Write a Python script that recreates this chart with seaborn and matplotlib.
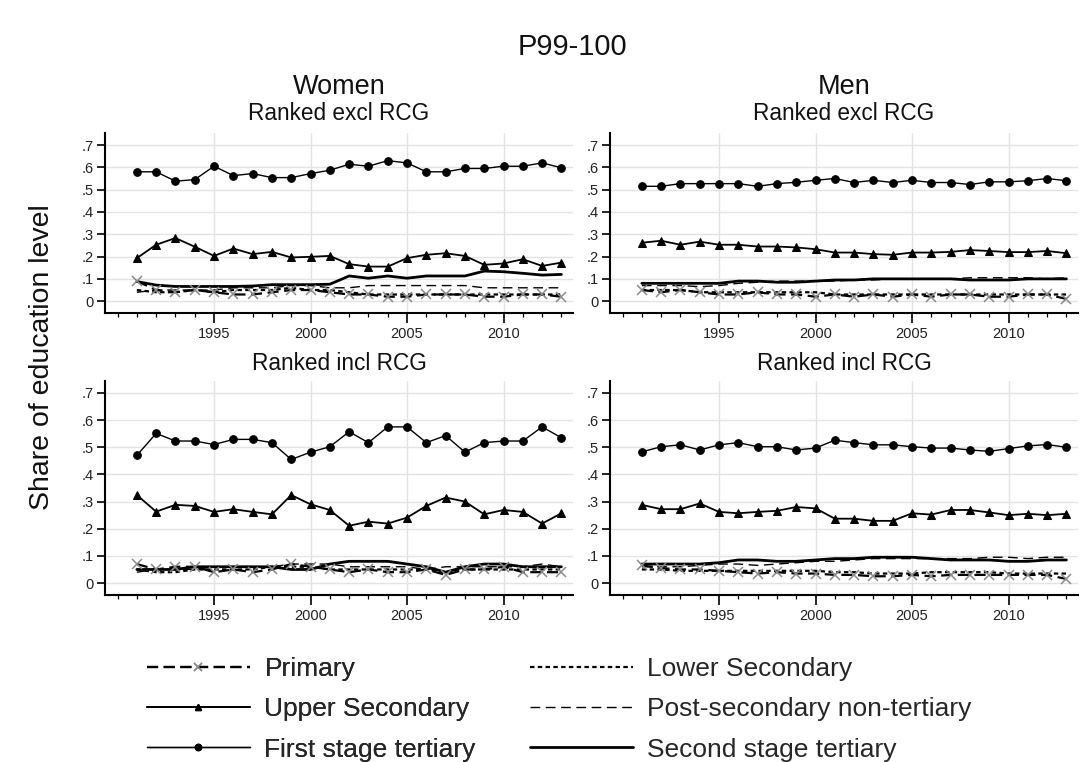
import numpy as np
import pandas as pd
import matplotlib
matplotlib.use("Agg")
import matplotlib.pyplot as plt
from matplotlib.lines import Line2D
from matplotlib.ticker import FixedLocator, FixedFormatter
import seaborn as sns

# ---------------------------------------------------------------- data
years = list(range(1991, 2014))
levels = ["Primary", "Upper Secondary", "First stage tertiary",
          "Lower Secondary", "Post-secondary non-tertiary", "Second stage tertiary"]

# Women, ranked excluding RCG
w_excl_primary = [0.090, 0.050, 0.040, 0.050, 0.040, 0.030, 0.030, 0.040, 0.050, 0.050, 0.040, 0.030,
                  0.030, 0.020, 0.020, 0.030, 0.030, 0.030, 0.020, 0.020, 0.030, 0.030, 0.020]
w_excl_lower = [0.050, 0.040, 0.040, 0.050, 0.040, 0.050, 0.050, 0.050, 0.060, 0.050, 0.050, 0.040,
                0.030, 0.030, 0.030, 0.030, 0.030, 0.030, 0.030, 0.030, 0.030, 0.030, 0.030]
w_excl_upper = [0.193, 0.253, 0.283, 0.244, 0.203, 0.236, 0.211, 0.221, 0.196, 0.199, 0.203, 0.166,
                0.155, 0.155, 0.193, 0.208, 0.215, 0.203, 0.163, 0.169, 0.188, 0.158, 0.173]
w_excl_post = [0.040, 0.050, 0.050, 0.050, 0.050, 0.060, 0.060, 0.060, 0.070, 0.070, 0.060, 0.060,
               0.070, 0.070, 0.070, 0.070, 0.070, 0.070, 0.060, 0.060, 0.060, 0.060, 0.060]
w_excl_first = [0.580, 0.580, 0.538, 0.545, 0.605, 0.563, 0.572, 0.554, 0.554, 0.572, 0.587, 0.614,
                0.605, 0.630, 0.620, 0.580, 0.580, 0.595, 0.595, 0.605, 0.605, 0.620, 0.598]
w_excl_second = [0.088, 0.072, 0.066, 0.066, 0.066, 0.066, 0.068, 0.074, 0.074, 0.074, 0.076, 0.113,
                 0.103, 0.113, 0.103, 0.113, 0.113, 0.113, 0.135, 0.132, 0.125, 0.117, 0.120]

# Men, ranked excluding RCG
m_excl_primary = [0.050, 0.040, 0.050, 0.040, 0.030, 0.030, 0.040, 0.030, 0.030, 0.020, 0.030, 0.020,
                  0.030, 0.020, 0.030, 0.020, 0.030, 0.030, 0.020, 0.020, 0.030, 0.030, 0.010]
m_excl_lower = [0.050, 0.050, 0.050, 0.040, 0.040, 0.040, 0.040, 0.040, 0.040, 0.040, 0.030, 0.030,
                0.030, 0.030, 0.030, 0.030, 0.030, 0.030, 0.030, 0.030, 0.030, 0.030, 0.030]
m_excl_upper = [0.262, 0.271, 0.253, 0.267, 0.253, 0.253, 0.245, 0.245, 0.241, 0.233, 0.218, 0.218,
                0.211, 0.208, 0.218, 0.218, 0.221, 0.229, 0.225, 0.220, 0.220, 0.225, 0.215]
m_excl_post = [0.070, 0.070, 0.070, 0.065, 0.070, 0.080, 0.085, 0.090, 0.090, 0.090, 0.090, 0.095,
               0.095, 0.100, 0.100, 0.100, 0.100, 0.105, 0.105, 0.105, 0.105, 0.100, 0.105]
m_excl_first = [0.515, 0.515, 0.527, 0.527, 0.527, 0.527, 0.515, 0.527, 0.533, 0.542, 0.550, 0.532,
                0.542, 0.532, 0.542, 0.532, 0.532, 0.523, 0.535, 0.535, 0.540, 0.550, 0.540]
m_excl_second = [0.080, 0.080, 0.080, 0.080, 0.080, 0.090, 0.090, 0.085, 0.085, 0.090, 0.095, 0.095,
                 0.100, 0.100, 0.100, 0.100, 0.100, 0.095, 0.095, 0.095, 0.100, 0.100, 0.100]

# Women, ranked including RCG
w_incl_primary = [0.070, 0.050, 0.060, 0.060, 0.040, 0.050, 0.040, 0.050, 0.070, 0.060, 0.050, 0.040,
                  0.050, 0.040, 0.040, 0.050, 0.030, 0.050, 0.050, 0.060, 0.040, 0.040, 0.040]
w_incl_lower = [0.050, 0.040, 0.040, 0.050, 0.050, 0.050, 0.050, 0.060, 0.060, 0.060, 0.050, 0.050,
                0.050, 0.050, 0.050, 0.050, 0.040, 0.050, 0.050, 0.050, 0.050, 0.050, 0.050]
w_incl_upper = [0.324, 0.263, 0.288, 0.284, 0.262, 0.272, 0.262, 0.253, 0.324, 0.290, 0.269, 0.211,
                0.226, 0.219, 0.241, 0.284, 0.315, 0.300, 0.253, 0.269, 0.262, 0.219, 0.257]
w_incl_post = [0.040, 0.050, 0.050, 0.050, 0.060, 0.060, 0.060, 0.060, 0.070, 0.070, 0.070, 0.060,
               0.060, 0.060, 0.060, 0.050, 0.060, 0.060, 0.060, 0.060, 0.060, 0.070, 0.060]
w_incl_first = [0.470, 0.551, 0.523, 0.523, 0.510, 0.529, 0.529, 0.517, 0.455, 0.482, 0.502, 0.557,
                0.517, 0.575, 0.575, 0.517, 0.543, 0.482, 0.517, 0.523, 0.523, 0.575, 0.535]
w_incl_second = [0.050, 0.050, 0.050, 0.060, 0.060, 0.060, 0.060, 0.060, 0.050, 0.050, 0.070, 0.080,
                 0.080, 0.080, 0.070, 0.060, 0.040, 0.060, 0.070, 0.070, 0.060, 0.060, 0.060]

# Men, ranked including RCG
m_incl_primary = [0.065, 0.055, 0.050, 0.050, 0.045, 0.040, 0.035, 0.040, 0.035, 0.035, 0.030, 0.030,
                  0.025, 0.025, 0.030, 0.025, 0.030, 0.030, 0.030, 0.030, 0.030, 0.030, 0.015]
m_incl_lower = [0.050, 0.050, 0.045, 0.045, 0.045, 0.045, 0.045, 0.045, 0.045, 0.045, 0.040, 0.040,
                0.035, 0.035, 0.035, 0.040, 0.040, 0.040, 0.040, 0.035, 0.035, 0.035, 0.035]
m_incl_upper = [0.288, 0.272, 0.272, 0.293, 0.262, 0.257, 0.262, 0.266, 0.280, 0.275, 0.237, 0.237,
                0.229, 0.229, 0.257, 0.252, 0.269, 0.269, 0.260, 0.250, 0.255, 0.250, 0.255]
m_incl_post = [0.060, 0.060, 0.060, 0.065, 0.070, 0.070, 0.065, 0.070, 0.075, 0.080, 0.080, 0.085,
               0.090, 0.090, 0.090, 0.090, 0.090, 0.090, 0.095, 0.095, 0.090, 0.095, 0.095]
m_incl_first = [0.483, 0.502, 0.509, 0.490, 0.509, 0.517, 0.502, 0.502, 0.490, 0.497, 0.526, 0.517,
                0.509, 0.509, 0.502, 0.497, 0.497, 0.490, 0.485, 0.495, 0.505, 0.510, 0.500]
m_incl_second = [0.070, 0.070, 0.070, 0.070, 0.075, 0.085, 0.085, 0.080, 0.080, 0.085, 0.090, 0.090,
                 0.095, 0.095, 0.095, 0.090, 0.085, 0.085, 0.085, 0.080, 0.080, 0.085, 0.085]

ytick_values = [0, 0.1, 0.2, 0.3, 0.4, 0.5, 0.6, 0.7]
ytick_labels = ["0", ".1", ".2", ".3", ".4", ".5", ".6", ".7"]
xtick_values = [1995, 2000, 2005, 2010]
xtick_labels = ["1995", "2000", "2005", "2010"]

panels = {
    ("Women", "excl"): [w_excl_primary, w_excl_upper, w_excl_first, w_excl_lower, w_excl_post, w_excl_second],
    ("Men", "excl"): [m_excl_primary, m_excl_upper, m_excl_first, m_excl_lower, m_excl_post, m_excl_second],
    ("Women", "incl"): [w_incl_primary, w_incl_upper, w_incl_first, w_incl_lower, w_incl_post, w_incl_second],
    ("Men", "incl"): [m_incl_primary, m_incl_upper, m_incl_first, m_incl_lower, m_incl_post, m_incl_second],
}

# ---------------------------------------------------------------- styles
sns.set_theme(style="white")
plt.rcParams["font.family"] = ["Liberation Sans", "DejaVu Sans"]

styles = {
    "Primary": dict(color="black", linestyle=(0, (5, 2.5)), linewidth=1.6, marker="x",
                    markersize=6.5, markeredgecolor="#8a8a8a", markeredgewidth=1.1),
    "Upper Secondary": dict(color="black", linestyle="-", linewidth=1.3, marker="^",
                            markersize=5.5, markeredgecolor="black", markerfacecolor="black"),
    "First stage tertiary": dict(color="black", linestyle="-", linewidth=1.0, marker="o",
                                 markersize=5.5, markeredgecolor="black", markerfacecolor="black"),
    "Lower Secondary": dict(color="black", linestyle=(0, (2, 1.5)), linewidth=1.6),
    "Post-secondary non-tertiary": dict(color="black", linestyle=(0, (7, 4)), linewidth=1.0),
    "Second stage tertiary": dict(color="black", linestyle="-", linewidth=2.0),
}
draw_order = ["Second stage tertiary", "Post-secondary non-tertiary", "Lower Secondary",
              "Primary", "Upper Secondary", "First stage tertiary"]

W, H = 1081, 762
fig = plt.figure(figsize=(W / 100, H / 100), dpi=100)
fig.patch.set_facecolor("white")


def px_rect(left, top, right, bottom):
    return [left / W, 1 - bottom / H, (right - left) / W, (bottom - top) / H]


axes_rects = {
    ("Women", "excl"): (px_rect(105, 133, 573, 313), (-0.053, 0.754)),
    ("Men", "excl"): (px_rect(610, 133, 1078, 313), (-0.053, 0.754)),
    ("Women", "incl"): (px_rect(105, 381, 573, 595), (-0.044, 0.744)),
    ("Men", "incl"): (px_rect(610, 381, 1078, 595), (-0.044, 0.744)),
}

grid_col = "#e3e3e3"
for key, series in panels.items():
    rect, ylim = axes_rects[key]
    ax = fig.add_axes(rect)
    df = pd.DataFrame({
        "year": np.tile(years, len(levels)),
        "share": np.concatenate(series),
        "level": np.repeat(levels, len(years)),
    })
    for lvl in draw_order:
        sns.lineplot(data=df[df["level"] == lvl], x="year", y="share", ax=ax,
                     errorbar=None, legend=False, **styles[lvl])
    ax.set_xlim(1989.35, 2013.6)
    ax.set_ylim(*ylim)
    ax.set_xlabel("")
    ax.set_ylabel("")
    for s in ["top", "right"]:
        ax.spines[s].set_visible(False)
    for s in ["left", "bottom"]:
        ax.spines[s].set_color("black")
        ax.spines[s].set_linewidth(1.5)
    ax.yaxis.set_major_locator(FixedLocator(ytick_values))
    ax.yaxis.set_major_formatter(FixedFormatter(ytick_labels))
    ax.xaxis.set_major_locator(FixedLocator(xtick_values))
    ax.xaxis.set_major_formatter(FixedFormatter(xtick_labels))
    ax.xaxis.set_minor_locator(FixedLocator(list(range(1990, 2014))))
    ax.tick_params(axis="y", which="major", direction="out", length=6, width=1.2,
                   color="black", labelsize=10.5, labelcolor="#222222", pad=2, left=True)
    ax.tick_params(axis="x", which="major", direction="out", length=7, width=1.2,
                   color="black", labelsize=10.5, labelcolor="#222222", pad=3, bottom=True)
    ax.tick_params(axis="x", which="minor", direction="out", length=3, width=0.9,
                   color="black", bottom=True)
    ax.grid(True, which="major", axis="both", color=grid_col, linewidth=1.0)
    ax.set_axisbelow(True)
    ax.set_facecolor("white")
    sub = "Ranked excl RCG" if key[1] == "excl" else "Ranked incl RCG"
    sub_y = 1 - 120 / H if key[1] == "excl" else 1 - 370 / H
    cx = rect[0] + rect[2] / 2
    fig.text(cx, sub_y, sub, ha="center", va="baseline", fontsize=16.3, color="#111111")
    if key[1] == "excl":
        fig.text(cx, 1 - 94 / H, key[0], ha="center", va="baseline", fontsize=19.5,
                 color="#111111")

fig.text(572 / W, 1 - 55 / H, "P99-100", ha="center", va="baseline", fontsize=21, color="#111111")
fig.text(42 / W, 1 - 357 / H, "Share of education level", ha="center", va="center",
         rotation=90, fontsize=20.5, color="#111111")

# legend: two columns placed side by side
handles = {}
for lvl in levels:
    st = dict(styles[lvl])
    if "markersize" in st:
        st["markersize"] = 4.5 if lvl != "Primary" else 6
    handles[lvl] = Line2D([0], [0], label=lvl, **st)

legend_kw = dict(loc="upper left", frameon=False, fontsize=19, handlelength=3.9,
                 handletextpad=0.55, labelspacing=0.62, borderpad=0, borderaxespad=0,
                 numpoints=1)
col1 = levels[:3]
col2 = levels[3:]
leg1 = fig.legend(handles=[handles[l] for l in col1], labels=col1,
                  bbox_to_anchor=(147 / W, 1 - 657 / H), **legend_kw)
fig.add_artist(leg1)
fig.legend(handles=[handles[l] for l in col2], labels=col2,
           bbox_to_anchor=(530 / W, 1 - 657 / H), **legend_kw)

fig.savefig("out.png", dpi=100, facecolor="white")
